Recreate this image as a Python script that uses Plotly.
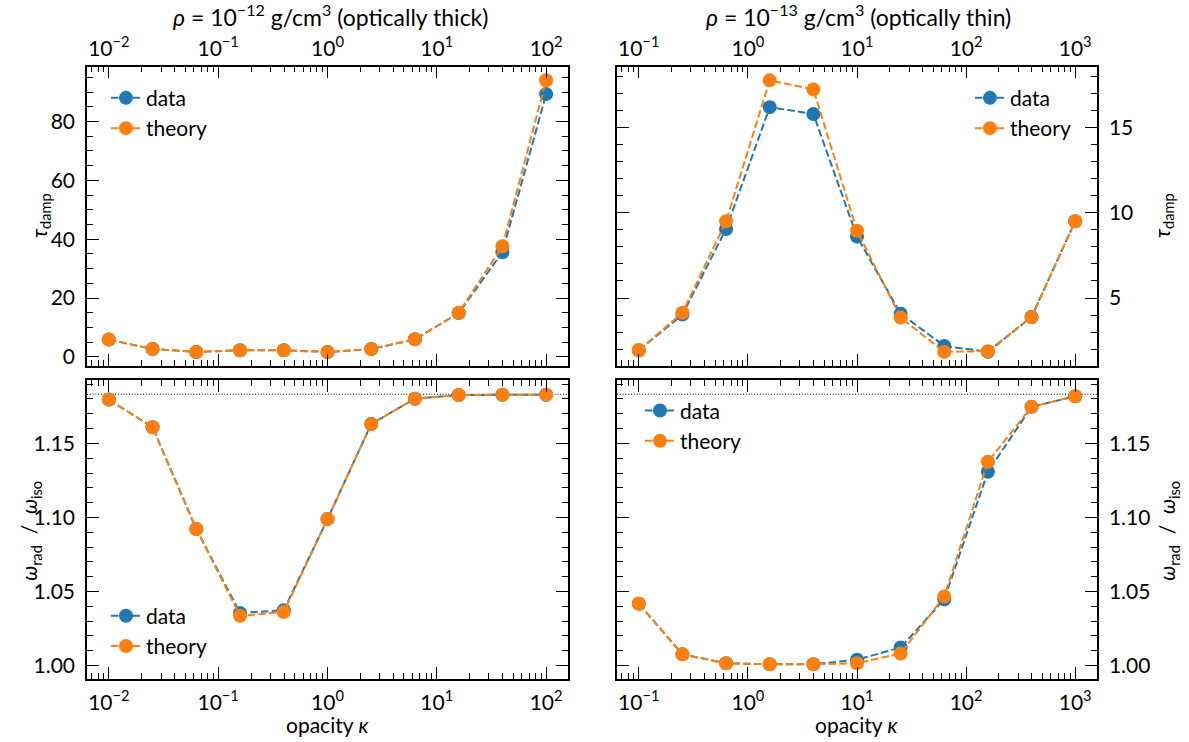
import plotly.graph_objects as go

# ---- data -------------------------------------------------------------
kappa_thick = [0.01, 0.02512, 0.0631, 0.1585, 0.3981, 1.0, 2.512, 6.31, 15.85, 39.81, 100.0]
kappa_thin = [0.1, 0.2512, 0.631, 1.585, 3.981, 10.0, 25.12, 63.1, 158.5, 398.1, 1000.0]

tau_thick_data = [5.9, 2.7, 1.7, 2.3, 2.3, 1.7, 2.7, 6.0, 14.9, 35.6, 89.3]
tau_thick_theory = [5.9, 2.7, 1.7, 2.3, 2.3, 1.7, 2.7, 6.0, 15.0, 37.6, 94.0]
tau_thin_data = [1.94, 4.03, 9.05, 16.2, 15.8, 8.6, 4.08, 2.19, 1.84, 3.89, 9.5]
tau_thin_theory = [1.94, 4.14, 9.5, 17.77, 17.24, 8.95, 3.85, 1.84, 1.88, 3.89, 9.5]

omega_thick_data = [1.1796, 1.1609, 1.0922, 1.0355, 1.0374, 1.0989, 1.1631, 1.1802, 1.1827, 1.1829, 1.1829]
omega_thick_theory = [1.1796, 1.1609, 1.0922, 1.0336, 1.0362, 1.0989, 1.1631, 1.1802, 1.1827, 1.1829, 1.1829]
omega_thin_data = [1.0418, 1.0076, 1.0016, 1.0009, 1.0009, 1.0040, 1.0122, 1.0447, 1.1309, 1.1747, 1.1818]
omega_thin_theory = [1.0418, 1.0076, 1.0016, 1.0009, 1.0009, 1.0016, 1.0082, 1.0467, 1.1376, 1.1747, 1.1818]

omega_limit = 1.1832  # adiabatic limit of the frequency ratio

thick_ticks = [0.01, 0.1, 1, 10, 100]
thick_ticktext = ["10<sup>−2</sup>", "10<sup>−1</sup>", "10<sup>0</sup>", "10<sup>1</sup>", "10<sup>2</sup>"]
thin_ticks = [0.1, 1, 10, 100, 1000]
thin_ticktext = ["10<sup>−1</sup>", "10<sup>0</sup>", "10<sup>1</sup>", "10<sup>2</sup>", "10<sup>3</sup>"]

titles = ["<i>ρ</i> = 10<sup>−12</sup> g/cm<sup>3</sup> (optically thick)",
          "<i>ρ</i> = 10<sup>−13</sup> g/cm<sup>3</sup> (optically thin)"]

# ---- style ------------------------------------------------------------
W, H = 1189, 742
FONT = "Lato"
BLUE, ORANGE = "#1f77b4", "#ff7f0e"
FS_TICK = 21
FS_LEG = 21
FS_LABEL = 21
FS_TITLE = 23


def px(x):
    return x / W


def py(y):
    return 1 - y / H


left_dom = [px(87), px(568)]
right_dom = [px(617), px(1097)]
top_dom = [py(367), py(67)]
bot_dom = [py(682), py(382)]


def log_minor(lo, hi):
    vals = []
    for d in range(lo, hi + 1):
        for k in range(2, 10):
            vals.append(k * 10.0 ** d)
    return vals


axis_common = dict(
    showline=True, linecolor="black", linewidth=1.5, mirror="allticks",
    ticks="inside", ticklen=12, tickwidth=1.3, tickcolor="black",
    showgrid=False, zeroline=False,
    tickfont=dict(family=FONT, size=FS_TICK, color="black"),
)

fig = go.Figure()


def add_pair(x, yd, yt, xa, ya, legend):
    for y, color, name in ((yd, BLUE, "data"), (yt, ORANGE, "theory")):
        fig.add_trace(go.Scatter(
            x=x, y=y, name=name, mode="lines+markers",
            line=dict(color=color, width=2, dash="7.5px,3.2px"),
            marker=dict(color=color, size=14),
            xaxis=xa, yaxis=ya, legend=legend,
        ))


add_pair(kappa_thick, tau_thick_data, tau_thick_theory, "x", "y", "legend")
add_pair(kappa_thin, tau_thin_data, tau_thin_theory, "x2", "y2", "legend2")
add_pair(kappa_thick, omega_thick_data, omega_thick_theory, "x3", "y3", "legend3")
add_pair(kappa_thin, omega_thin_data, omega_thin_theory, "x4", "y4", "legend4")


def xaxis(dom, rng, ticks, ticktext, lo, hi, side, anchor, standoff):
    return dict(axis_common, type="log", domain=dom, range=rng, anchor=anchor,
                tickvals=ticks, ticktext=ticktext, side=side, ticklabelstandoff=standoff,
                minor=dict(ticks="inside", ticklen=6, tickwidth=1.1, tickcolor="black",
                           tickvals=log_minor(lo, hi), showgrid=False))


def yaxis(dom, rng, dtick, minor_dtick, fmt, side, anchor, tick0=0):
    return dict(axis_common, domain=dom, range=rng, anchor=anchor, side=side,
                tick0=tick0, dtick=dtick, tickformat=fmt, ticklabelstandoff=6,
                minor=dict(ticks="inside", ticklen=6, tickwidth=1.1, tickcolor="black",
                           tick0=tick0, dtick=minor_dtick, showgrid=False))


fig.update_layout(
    xaxis=xaxis(left_dom, [-2.2, 2.2], thick_ticks, thick_ticktext, -3, 2, "top", "y", 1),
    xaxis2=xaxis(right_dom, [-1.2, 3.2], thin_ticks, thin_ticktext, -2, 3, "top", "y2", 1),
    xaxis3=xaxis(left_dom, [-2.2, 2.2], thick_ticks, thick_ticktext, -3, 2, "bottom", "y3", 4),
    xaxis4=xaxis(right_dom, [-1.2, 3.2], thin_ticks, thin_ticktext, -2, 3, "bottom", "y4", 4),
    yaxis=yaxis(top_dom, [-2.9, 98.6], 20, 5, "d", "left", "x"),
    yaxis2=yaxis(top_dom, [1.04, 18.57], 5, 1, "d", "right", "x2"),
    yaxis3=yaxis(bot_dom, [0.9908, 1.1925], 0.05, 0.01, ".2f", "left", "x3", tick0=1.0),
    yaxis4=yaxis(bot_dom, [0.9908, 1.1925], 0.05, 0.01, ".2f", "right", "x4", tick0=1.0),
)

# reference line for the adiabatic limit
for xa, ya in (("x3", "y3"), ("x4", "y4")):
    fig.add_shape(type="line", xref=f"{xa} domain", yref=ya, x0=0, x1=1,
                  y0=omega_limit, y1=omega_limit, layer="below",
                  line=dict(color="black", width=1, dash="1px,1.8px"))

legend_common = dict(bgcolor="rgba(0,0,0,0)", borderwidth=0,
                     font=dict(family=FONT, size=FS_LEG, color="black"),
                     xanchor="left", yanchor="top", itemwidth=30, tracegroupgap=0)
fig.update_layout(
    legend=dict(legend_common, x=px(106), y=py(78)),
    legend2=dict(legend_common, x=px(970), y=py(78)),
    legend3=dict(legend_common, x=px(106), y=py(598)),
    legend4=dict(legend_common, x=px(640), y=py(392)),
)


def note(text, x, y, size, angle=0):
    return dict(text=text, x=px(x), y=py(y), xref="paper", yref="paper",
                xanchor="center", yanchor="middle", showarrow=False, textangle=angle,
                font=dict(family=FONT, size=size, color="black"))


annotations = []
for text, cx in zip(titles, (330, 858)):
    annotations.append(note(text, cx, 16, FS_TITLE))
for cx in (327, 857):
    annotations.append(note("opacity <i>κ</i>", cx, 727, FS_LABEL))
for cx in (40, 1163):
    annotations.append(note("<i>τ</i><sub>damp</sub>", cx, 217, FS_LABEL, -90))
for cx in (30, 1168):
    annotations.append(note("<i>ω</i><sub>rad</sub>  /  <i>ω</i><sub>iso</sub>",
                            cx, 533, FS_LABEL, -90))

fig.update_layout(
    width=W, height=H, margin=dict(l=0, r=0, t=0, b=0),
    paper_bgcolor="white", plot_bgcolor="white",
    font=dict(family=FONT, size=FS_TICK, color="black"),
    annotations=annotations,
)

fig.write_html("out.html", config=dict(displayModeBar=False))
